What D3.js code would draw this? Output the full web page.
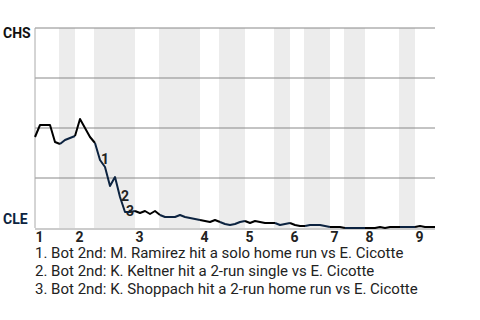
<!DOCTYPE html>
<html>
<head>
<meta charset="utf-8">
<script src="https://cdn.jsdelivr.net/npm/d3@7"></script>
<style>
    body { margin: 0; background: #fff; }
    svg { font-family: Roboto, "Noto Sans", sans-serif; }
</style>
</head>
<body>
<div id="chart"></div>
<script>
// CHS win probability after each event (0 = CLE wins, 1 = CHS wins)
const winProb = [
    0.455, 0.515, 0.515, 0.515, 0.43, 0.42, 0.44, 0.45, 0.46, 0.545,
    0.50, 0.455, 0.425, 0.34, 0.305, 0.21, 0.255, 0.155, 0.08, 0.08,
    0.085, 0.075, 0.085, 0.07, 0.085, 0.065, 0.055, 0.055, 0.055, 0.065,
    0.055, 0.05, 0.045, 0.04, 0.035, 0.03, 0.04, 0.03, 0.02, 0.015,
    0.02, 0.03, 0.035, 0.025, 0.035, 0.03, 0.025, 0.025, 0.025, 0.015,
    0.02, 0.025, 0.015, 0.01, 0.01, 0.015, 0.015, 0.015, 0.01, 0.005,
    0.005, 0.005, 0, 0, 0, 0, 0, 0, 0, 0.005,
    0, 0.005, 0.005, 0.005, 0.005, 0.005, 0.005, 0.01, 0.005, 0.005,
    0.005
];

// event index where each half inning starts (top 1, bot 1, top 2, ...)
const halfStarts = [0, 5, 8, 12, 20, 25, 33, 37, 42, 48, 51, 54, 59, 62, 66, 73, 76];
const inningLabels = ['1', '2', '3', '4', '5', '6', '7', '8', '9'];

const yTicks = [0.25, 0.5, 0.75, 1];

const noteEvents = [13, 17, 18];
const noteLabels = ['1', '2', '3'];
const noteTexts = [
    '1. Bot 2nd: M. Ramirez hit a solo home run vs E. Cicotte',
    '2. Bot 2nd: K. Keltner hit a 2-run single vs E. Cicotte',
    '3. Bot 2nd: K. Shoppach hit a 2-run home run vs E. Cicotte'
];

const awayTeam = 'CHS';
const homeTeam = 'CLE';

const width = 480, height = 320;
const margin = { top: 28, right: 45, bottom: 92, left: 35 };
const navy = '#0c2340';

const lastEvent = winProb.length - 1;

const x = d3.scaleLinear()
    .domain([0, lastEvent])
    .range([margin.left, width - margin.right]);

const y = d3.scaleLinear()
    .domain([0, 1])
    .range([height - margin.bottom, margin.top]);

const svg = d3.select('#chart')
    .append('svg')
    .attr('width', width)
    .attr('height', height);

// bottom half-inning bands
const halves = halfStarts.map((s, i) => ({
    start: s,
    end: i + 1 < halfStarts.length ? halfStarts[i + 1] : lastEvent,
    bottom: i % 2 === 1
}));

svg.append('g')
    .selectAll('rect')
    .data(halves.filter(h => h.bottom))
    .join('rect')
    .attr('x', d => x(d.start) - 1)
    .attr('width', d => x(d.end) - x(d.start) + 1)
    .attr('y', y(1))
    .attr('height', y(0) - y(1))
    .attr('fill', '#ececec');

// grid
svg.append('g')
    .selectAll('line')
    .data(yTicks)
    .join('line')
    .attr('x1', x(0))
    .attr('x2', x(lastEvent))
    .attr('y1', d => y(d))
    .attr('y2', d => y(d))
    .attr('stroke', '#888')
    .attr('stroke-width', 1);

svg.append('line')
    .attr('x1', x(0))
    .attr('x2', x(0))
    .attr('y1', y(1))
    .attr('y2', y(0))
    .attr('stroke', '#aaa');

// x axis
const innings = halfStarts.filter((d, i) => i % 2 === 0);
const xAxis = svg.append('g')
    .attr('transform', `translate(0,${y(0) + 1})`)
    .call(d3.axisBottom(x).tickValues(innings).tickSize(0).tickPadding(3)
        .tickFormat((d, i) => inningLabels[i]));

xAxis.select('.domain').attr('stroke', '#999').attr('d', `M${x(0)},0H${x(lastEvent)}`);
xAxis.selectAll('text')
    .attr('text-anchor', 'start')
    .attr('fill', '#222')
    .style('font-size', '14px')
    .style('font-weight', 'bold')
    .style('font-family', 'Roboto');

// team labels
svg.append('text')
    .attr('x', 3)
    .attr('y', y(1) + 10)
    .attr('fill', '#111')
    .style('font-size', '14px')
    .style('font-weight', 'bold')
    .text(awayTeam);

svg.append('text')
    .attr('x', 3)
    .attr('y', y(0) - 4)
    .attr('fill', navy)
    .style('font-size', '14px')
    .style('font-weight', 'bold')
    .text(homeTeam);

// win probability line, coloured by batting team
const line = d3.line()
    .x(d => x(d))
    .y(d => y(winProb[d]));

svg.append('g')
    .selectAll('path')
    .data(halves)
    .join('path')
    .attr('fill', 'none')
    .attr('stroke', d => d.bottom ? navy : '#000')
    .attr('stroke-width', 2)
    .attr('stroke-linejoin', 'round')
    .attr('d', d => line(d3.range(d.start, d.end + 1)));

// annotation markers
svg.append('g')
    .selectAll('text')
    .data(noteEvents)
    .join('text')
    .attr('x', d => x(d) + 1)
    .attr('y', d => y(winProb[d]) + 4)
    .attr('fill', '#222')
    .style('font-size', '14px')
    .style('font-weight', 'bold')
    .text((d, i) => noteLabels[i]);

// notes
svg.append('g')
    .selectAll('text')
    .data(noteTexts)
    .join('text')
    .attr('x', 35)
    .attr('y', (d, i) => 258 + i * 18)
    .attr('fill', '#222')
    .style('font-size', '15px')
    .text(d => d);
</script>
</body>
</html>
